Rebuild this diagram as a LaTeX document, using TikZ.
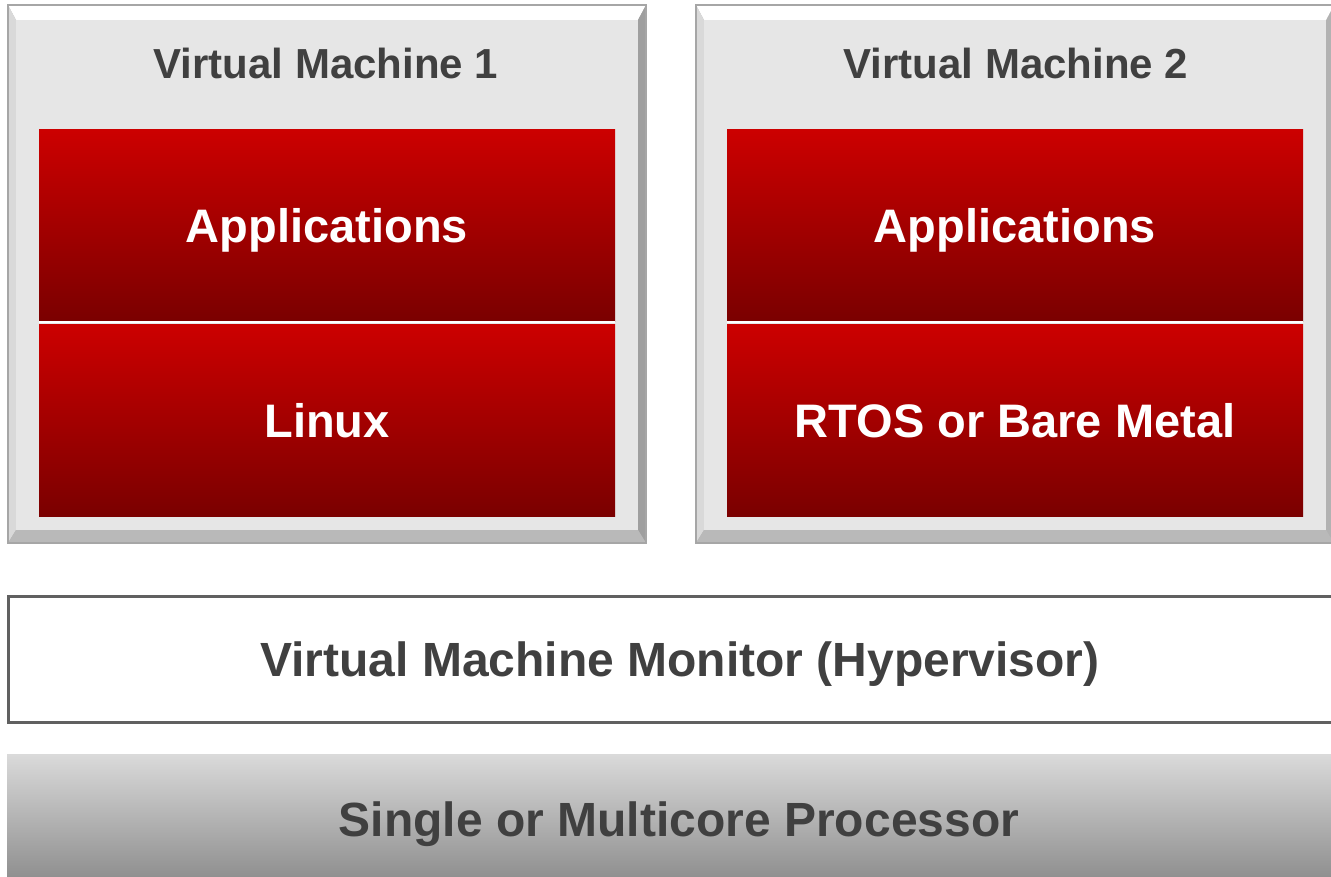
\documentclass[tikz,border=0pt]{standalone}
\usepackage{fontspec}
\setmainfont{Liberation Sans}
\definecolor{txtgray}{HTML}{404040}
\definecolor{redtop}{HTML}{CC0000}
\definecolor{redbot}{HTML}{7A0000}
\definecolor{vmfill}{HTML}{E6E6E6}
\definecolor{procTop}{HTML}{DADADA}
\definecolor{procBot}{HTML}{8F8F8F}
\begin{document}
\begin{tikzpicture}[x=1pt,y=-1pt,
  redbox/.style={draw=none,top color=redtop,bottom color=redbot,minimum width=576pt,minimum height=192pt,inner sep=0pt},
  redtext/.style={text=white,font=\fontsize{47}{56}\selectfont\bfseries,text height=34pt,text depth=0pt,inner sep=0pt},
  vminner/.style={fill=vmfill,draw=none,minimum width=622pt,minimum height=510pt,inner sep=0pt},
  vmtitle/.style={text=txtgray,font=\fontsize{42}{50}\selectfont\bfseries,text height=30pt,text depth=0pt,inner sep=0pt},
  bigtext/.style={text=txtgray,font=\fontsize{48}{56}\selectfont\bfseries,text height=34.5pt,text depth=0pt,inner sep=0pt}]
\useasboundingbox (0,0) rectangle (1331,877);
% VM 1 bevel
\fill[gray!60] (8,5) rectangle (646,543);
\fill[white] (8,5) -- (646,5) -- (638,20) -- (16,20) -- cycle;
\fill[gray!30] (8,5) -- (16,20) -- (16,530) -- (8,543) -- cycle;
\fill[gray!75] (646,5) -- (646,543) -- (638,530) -- (638,20) -- cycle;
\fill[gray!55] (8,543) -- (16,530) -- (638,530) -- (646,543) -- cycle;
\draw[gray!70,line width=1.5pt] (8,5) rectangle (646,543);
\node[vminner] (vm1) at (327,275) {};
% VM 2 bevel
\fill[gray!60] (696,5) rectangle (1334,543);
\fill[white] (696,5) -- (1334,5) -- (1326,20) -- (704,20) -- cycle;
\fill[gray!30] (696,5) -- (704,20) -- (704,530) -- (696,543) -- cycle;
\fill[gray!55] (696,543) -- (704,530) -- (1326,530) -- (1334,543) -- cycle;
\draw[gray!70,line width=1.5pt] (696,5) rectangle (1334,543);
\node[vminner] (vm2) at (1015,275) {};
% titles
\node[vmtitle] (t1) at (326,64) {Virtual Machine 1};
\node[vmtitle] (t2) at (1016,64) {Virtual Machine 2};
% red boxes
\node[redbox] (app1) at (327,226) {};
\node[redbox] (lin) at (327,420.5) {};
\node[redbox] (app2) at (1015,226) {};
\node[redbox] (rtos) at (1015,420.5) {};
\node[redtext] (app1t) at (app1.center) {Applications};
\node[redtext] (lint) at (lin.center) {Linux};
\node[redtext] (app2t) at (app2.center) {Applications};
\node[redtext] (rtost) at (rtos.center) {RTOS or Bare Metal};
\draw[white,line width=1.5pt] (app1.south west) -- (app1.south east);
\draw[white,line width=1.5pt] (app2.south west) -- (app2.south east);
% hypervisor
\node[draw=gray!75!black,line width=2.5pt,fill=white,minimum width=1340pt,minimum height=126pt,inner sep=0pt,anchor=north west] (hyp) at (7,595) {};
\node[bigtext] (hyptext) at (680,659) {Virtual Machine Monitor (Hypervisor)};
% processor
\node[draw=none,top color=procTop,bottom color=procBot,minimum width=1340pt,minimum height=124pt,inner sep=0pt,anchor=north west] (proc) at (7,754) {};
\node[bigtext] (proctext) at (679,819) {Single or Multicore Processor};
\end{tikzpicture}
\end{document}
